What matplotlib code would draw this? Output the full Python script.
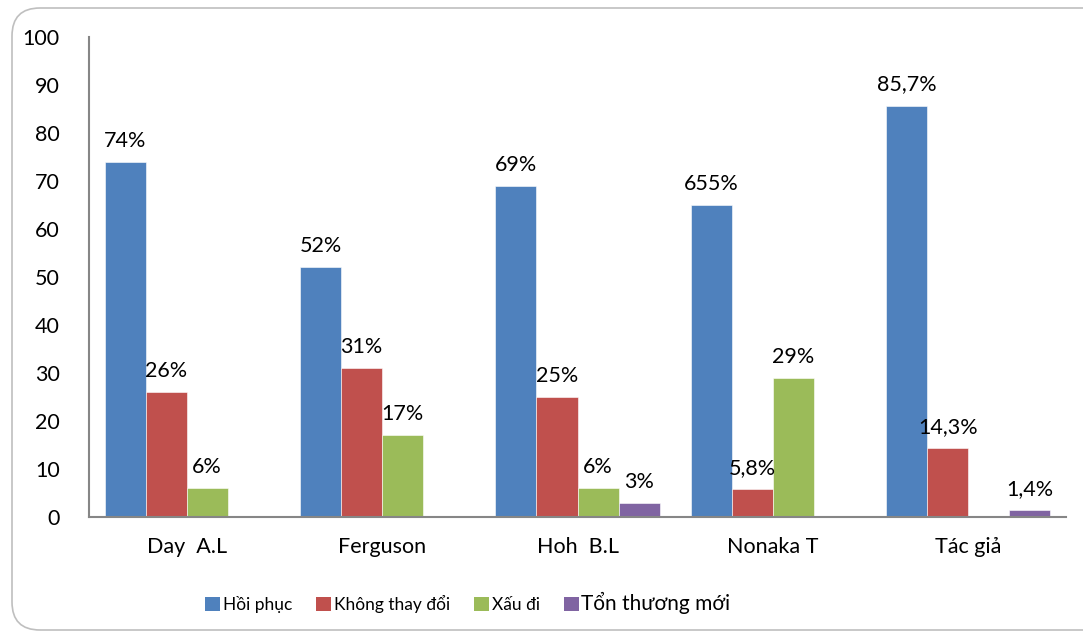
import numpy as np
import matplotlib
matplotlib.use('Agg')
import matplotlib.pyplot as plt
from matplotlib.patches import FancyBboxPatch, Patch

plt.rcParams['font.family'] = ['Lato', 'Noto Sans', 'DejaVu Sans']

# Données
nhom = ['Day  A.L', 'Ferguson', 'Hoh  B.L', 'Nonaka T', 'Tác giả']
series = ['Hồi phục', 'Không thay đổi', 'Xấu đi', 'Tổn thương mới']
hoi_phuc = [74, 52, 69, 65, 85.7]
khong_thay_doi = [26, 31, 25, 5.8, 14.3]
xau_di = [6, 17, 6, 29, np.nan]
ton_thuong_moi = [np.nan, np.nan, 3, np.nan, 1.4]

nhan_hoi_phuc = ['74%', '52%', '69%', '655%', '85,7%']
nhan_khong_thay_doi = ['26%', '31%', '25%', '5,8%', '14,3%']
nhan_xau_di = ['6%', '17%', '6%', '29%', '']
nhan_ton_thuong = ['', '', '3%', '', '1,4%']

mau = ['#4F81BD', '#C0504D', '#9BBB59', '#8064A2']

fig = plt.figure(figsize=(10.83, 6.36), dpi=100)

# Khung viền bo góc
khung = FancyBboxPatch((12, 6), 1100, 622, boxstyle='round,pad=0,rounding_size=28',
                       transform=None, facecolor='none', edgecolor='#BFBFBF', linewidth=1.2)
fig.patches.append(khung)

ax = fig.add_axes([0.0822, 0.187, 0.9021, 0.755])

x = np.arange(len(nhom))
w = 0.21
du_lieu = [hoi_phuc, khong_thay_doi, xau_di, ton_thuong_moi]
nhan = [nhan_hoi_phuc, nhan_khong_thay_doi, nhan_xau_di, nhan_ton_thuong]

for i, (vals, labs) in enumerate(zip(du_lieu, nhan)):
    pos = x + (i - 1.5) * w
    ax.bar(pos, vals, width=w, color=mau[i], edgecolor='white', linewidth=0.4)
    for px, v, t in zip(pos, vals, labs):
        if t and not np.isnan(v):
            ax.annotate(t, (px, v), xytext=(0, 21), textcoords='offset pixels',
                        ha='center', va='center', fontsize=15.5)

ax.set_xlim(-0.5, len(nhom) - 0.5)
ax.set_ylim(0, 100)
ax.set_yticks(range(0, 101, 10))
ax.set_xticks(x)
ax.set_xticklabels(nhom, fontsize=15.5)
ax.tick_params(axis='y', length=0, labelsize=15.5, pad=21)
ax.tick_params(axis='x', length=0, pad=14)
for s in ['top', 'right']:
    ax.spines[s].set_visible(False)
for s in ['left', 'bottom']:
    ax.spines[s].set_color('#868686')
    ax.spines[s].set_linewidth(1.5)

handles = [Patch(facecolor=c) for c in mau]
leg = fig.legend(handles, series, loc='center', bbox_to_anchor=(0.432, 0.052), ncol=4,
                 frameon=False, fontsize=12.5, handlelength=0.85, handleheight=0.85,
                 handletextpad=0.15, columnspacing=1.4)
leg.get_texts()[3].set_fontsize(15)

fig.savefig('out.png', dpi=100)
